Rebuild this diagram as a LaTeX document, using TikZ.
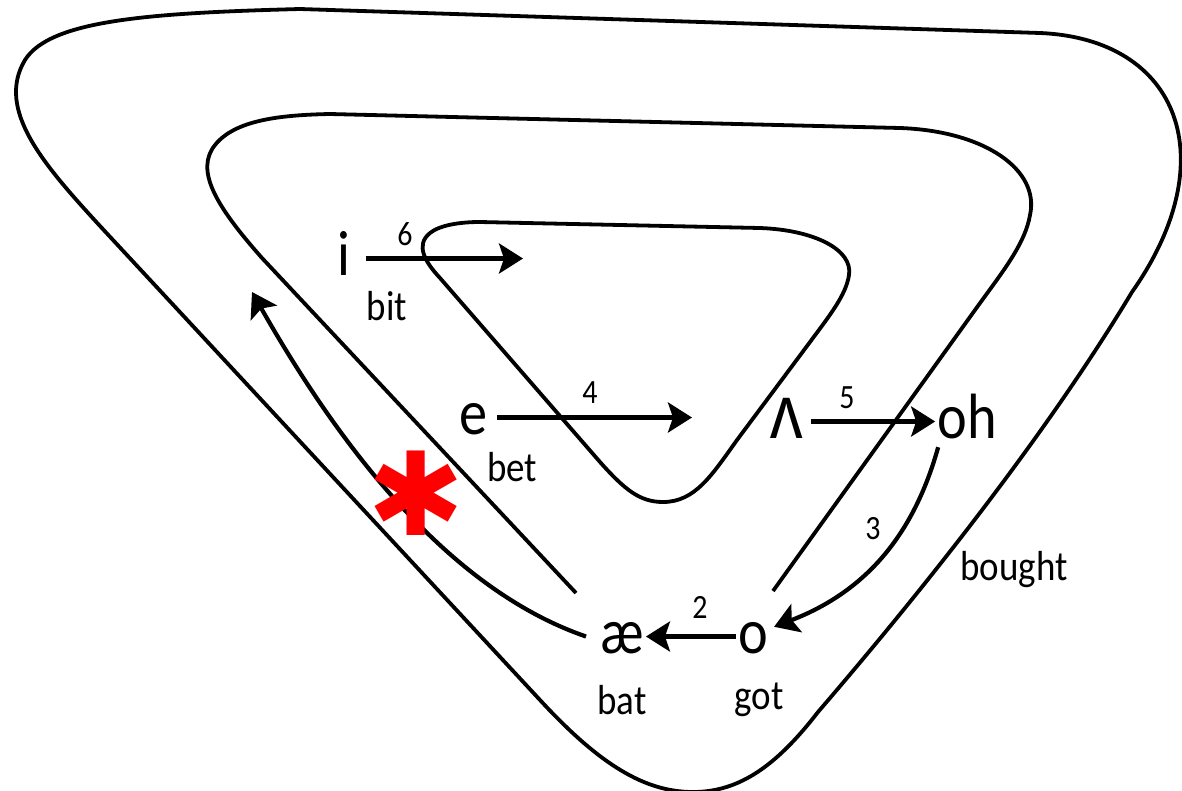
\documentclass[tikz,border=0pt]{standalone}
\usepackage{fontspec}
\setmainfont{Carlito}[FakeStretch=0.88]
\newfontfamily\ipafont{Noto Sans}
\newfontfamily\starfont{DejaVu Sans}
\usetikzlibrary{arrows.meta}
\begin{document}
\begin{tikzpicture}[x=1pt,y=-1pt,
  curve/.style={line width=3.8pt,line join=round},
  arr/.style={line width=4.2pt,-{Stealth[length=24pt,width=30pt,inset=5pt]}},
  big/.style={anchor=base,inner sep=2pt,text height=33pt,text depth=0pt,font=\fontsize{64}{70}\selectfont},
  word/.style={anchor=base,inner sep=0pt,font=\fontsize{42}{46}\selectfont},
  num/.style={anchor=base,inner sep=0pt,font=\fontsize{34}{36}\selectfont}]
\useasboundingbox (0,0) rectangle (1182,790);
% outer closed loop
\draw[curve] (300,9) -- (1040,33) .. controls (1180,39) and (1225,160) .. (1132,292)
  .. controls (1040,445) and (910,605) .. (818,712)
  .. controls (777,765) and (740,792) .. (693,792)
  .. controls (645,792) and (600,765) .. (540,700)
  -- (100,226) .. controls (45,166) and (-5,110) .. (25,60)
  .. controls (50,20) and (150,13) .. cycle;
% middle open curve
\draw[curve] (576,593) -- (262,258) .. controls (215,205) and (195,170) .. (215,145)
  .. controls (235,120) and (280,115) .. (330,114) -- (900,128)
  .. controls (985,131) and (1040,170) .. (1030,215)
  .. controls (1025,245) and (1000,275) .. (975,310) -- (773,591);
% inner closed loop
\draw[curve] (480,222) -- (760,228) .. controls (815,230) and (853,250) .. (849,275)
  .. controls (846,295) and (830,315) .. (810,342) -- (737,440)
  .. controls (712,475) and (695,502) .. (663,502)
  .. controls (640,502) and (625,490) .. (600,462) -- (440,278)
  .. controls (425,262) and (415,245) .. (430,233)
  .. controls (440,225) and (460,222) .. cycle;
% vowel nodes
\node[big] (i) at (344,275) {i};
\node[word] (bit) at (387,320) {bit};
\node[big] (e) at (474,434) {e};
\node[word] (bet) at (512,481) {bet};
\node[big,font=\ipafont\fontsize{75}{80}\selectfont] (uh) at (787,438) {\scalebox{0.85}[1]{ʌ}};
\node[big] (oh) at (967,438) {oh};
\node[big] (ae) at (622,653) {æ};
\node[big] (o) at (753,653) {o};
\node[word] (bat) at (622,714) {bat};
\node[word] (got) at (759,709) {got};
\node[word] (bought) at (1014,580) {bought};
% step numbers
\node[num] (n6) at (405,245) {6};
\node[num] (n4) at (590,403) {4};
\node[num] (n5) at (847,408) {5};
\node[num] (n3) at (873,539) {3};
\node[num] (n2) at (700,618) {2};
% free arrow ends
\coordinate (t6) at (523,257);
\coordinate (t4) at (692,416);
\coordinate (tS) at (252,292);
% arrows
\draw[arr,shorten <=13pt] (i.east) -- (i.east -| t6);
\draw[arr,shorten <=7pt] (e.east) -- (e.east -| t4);
\draw[arr,shorten <=6pt] (uh.east) -- (oh.west);
\draw[arr] ([shift={(3,7)}]oh.south west) .. controls (915,530) and (870,590) .. ([shift={(4,9)}]o.north east);
\draw[arr] (o.west) -- (ae.east);
\draw[arr] ([shift={(-12,0)}]ae.west) .. controls (480,600) and (370,500) .. (tS);
% red asterisk
\node[text=red,anchor=center,inner sep=0pt,font=\starfont\fontsize{116}{116}\selectfont] (star) at (416,493) {✱};
\end{tikzpicture}
\end{document}
